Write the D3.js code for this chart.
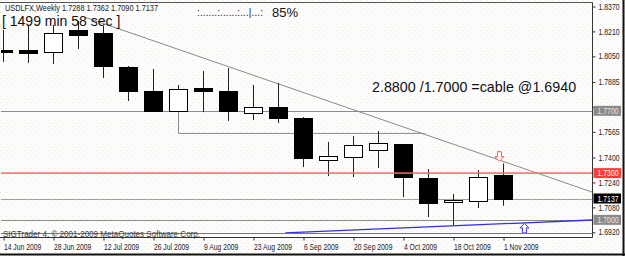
<!DOCTYPE html>
<html>
<head>
<meta charset="utf-8">
<script src="https://cdn.jsdelivr.net/npm/d3@7"></script>
<style>
  html, body { margin: 0; padding: 0; background: #fdfcfc; }
  svg { display: block; }
  .small { font-family: "Liberation Sans", Arial, sans-serif; }
  .big { font-family: "Liberation Sans", Arial, sans-serif; }
</style>
</head>
<body>
<svg id="chart" width="625" height="256"></svg>
<script>
// weekly candles, USDLFX
const weeks = ["2009-06-14","2009-06-21","2009-06-28","2009-07-05","2009-07-12","2009-07-19",
  "2009-07-26","2009-08-02","2009-08-09","2009-08-16","2009-08-23","2009-08-30","2009-09-06",
  "2009-09-13","2009-09-20","2009-09-27","2009-10-04","2009-10-11","2009-10-18","2009-10-25","2009-11-01"];
const open  = [1.8091,1.8091,1.8078,1.8219,1.8200,1.7981,1.7827,1.7699,1.7847,1.7827,1.7686,1.7725,1.7654,1.7384,1.7403,1.7448,1.7487,1.7269,1.7114,1.7121,1.7288];
const high  = [1.8219,1.8251,1.8251,1.8277,1.8245,1.7988,1.7969,1.7866,1.7956,1.7975,1.7866,1.7879,1.7660,1.7500,1.7538,1.7570,1.7487,1.7326,1.7166,1.7320,1.7362];
const low   = [1.8014,1.8007,1.8001,1.8097,1.7911,1.7763,1.7695,1.7692,1.7692,1.7635,1.7641,1.7622,1.7339,1.7281,1.7275,1.7333,1.7146,1.7018,1.6967,1.7076,1.7090];
const close = [1.8078,1.8071,1.8200,1.8187,1.7988,1.7827,1.7699,1.7840,1.7827,1.7699,1.7725,1.7654,1.7397,1.7410,1.7480,1.7493,1.7275,1.7108,1.7127,1.7275,1.7137];

const priceTicks = [1.8370,1.8210,1.8050,1.7885,1.7725,1.7565,1.7400,1.7240,1.7080,1.6920];
const dateTicks = ["2009-06-14","2009-06-28","2009-07-12","2009-07-26","2009-08-09","2009-08-23",
  "2009-09-06","2009-09-20","2009-10-04","2009-10-18","2009-11-01"];

// drawn objects
const levels = [
  {price: 1.7700, color: "#8c8c8c", box: "#8a8a8a", text: "#e4e4e4"},
  {price: 1.7300, color: "#f26a6a", box: "#ff3b3b", text: "#ffffff"},
  {price: 1.7137, color: "#a0a0a0", box: "#000000", text: "#ffffff"},
  {price: 1.7000, color: "#8c8c8c", box: "#8a8a8a", text: "#e4e4e4"}
];
const trendDown = [{t: "2009-07-07", p: 1.8301}, {t: "2009-11-26", p: 1.7178}];
const trendUp   = [{t: "2009-09-01", p: 1.6916}, {t: "2009-11-26", p: 1.6999}];
const stepLine  = [{t: "2009-08-02", p: 1.7699}, {t: "2009-08-02", p: 1.7558}, {t: "2009-10-10", p: 1.7558}];
const arrows = [
  {t: "2009-10-31", p: 1.7380, dir: "down", color: "#ff5a3c"},
  {t: "2009-11-07", p: 1.6974, dir: "up", color: "#3a3aff"}
];

const parse = s => new Date(s + "T00:00:00Z");
const candles = weeks.map((w, i) => ({date: parse(w), o: open[i], h: high[i], l: low[i], c: close[i]}));

const svg = d3.select("#chart");
const plot = {left: 1, right: 592.5, top: 2.5, bottom: 237.5};
const narrow = 0.84; // squeeze for the small terminal font

const x = d3.scaleUtc()
  .domain([parse("2009-06-14"), parse("2009-11-22")])
  .range([3, 578]);
const y = d3.scaleLinear()
  .domain([1.8370, 1.6920])
  .range([6.5, 232.3]);

// background dots
const defs = svg.append("defs");
const pat = defs.append("pattern").attr("id", "dots")
  .attr("width", 6).attr("height", 6).attr("patternUnits", "userSpaceOnUse");
pat.append("rect").attr("width", 6).attr("height", 6).attr("fill", "#fdfcfc");
pat.append("rect").attr("x", 0).attr("y", 0).attr("width", 1).attr("height", 1).attr("fill", "#efe9d2");
pat.append("rect").attr("x", 3).attr("y", 3).attr("width", 1).attr("height", 1).attr("fill", "#f1ecdc");
defs.append("clipPath").attr("id", "clip").append("rect")
  .attr("x", plot.left).attr("y", plot.top)
  .attr("width", plot.right - plot.left).attr("height", plot.bottom - plot.top);

svg.append("rect").attr("width", 625).attr("height", 256).attr("fill", "url(#dots)");

const g = svg.append("g").attr("clip-path", "url(#clip)");
const line = d3.line().x(d => x(parse(d.t))).y(d => y(d.p));

// horizontal levels (full width)
g.selectAll(".lvl").data(levels.filter(d => d.price !== 1.7300)).enter().append("line")
  .attr("x1", plot.left).attr("x2", plot.right)
  .attr("y1", d => Math.round(y(d.price)) + 0.5).attr("y2", d => Math.round(y(d.price)) + 0.5)
  .attr("stroke", d => d.color).attr("stroke-width", 1);

g.append("path").datum(stepLine).attr("d", line)
  .attr("fill", "none").attr("stroke", "#8c8c8c").attr("stroke-width", 1)
  .attr("transform", "translate(0.5,0.5)");
g.append("path").datum(trendDown).attr("d", line)
  .attr("fill", "none").attr("stroke", "#8a8a8a").attr("stroke-width", 1);
g.append("path").datum(trendUp).attr("d", line)
  .attr("fill", "none").attr("stroke", "#2f2ff2").attr("stroke-width", 1.3);

// candles
const bw = 19;
const cg = g.selectAll(".candle").data(candles).enter().append("g");
cg.append("line")
  .attr("x1", d => Math.round(x(d.date)) + 0.5).attr("x2", d => Math.round(x(d.date)) + 0.5)
  .attr("y1", d => y(d.h)).attr("y2", d => y(d.l))
  .attr("stroke", "#222").attr("stroke-width", 1);
cg.append("rect")
  .attr("x", d => Math.round(x(d.date)) - 9 + 0.5)
  .attr("y", d => Math.round(y(Math.max(d.o, d.c))) + 0.5)
  .attr("width", bw - 1)
  .attr("height", d => Math.max(1, Math.round(y(Math.min(d.o, d.c)) - y(Math.max(d.o, d.c)))))
  .attr("fill", d => d.c >= d.o ? "#ffffff" : "#000000")
  .attr("stroke", "#000").attr("stroke-width", 1);

// red level on top
g.selectAll(".red").data(levels.filter(d => d.price === 1.7300)).enter().append("line")
  .attr("x1", plot.left).attr("x2", plot.right)
  .attr("y1", d => y(d.price)).attr("y2", d => y(d.price))
  .attr("stroke", d => d.color).attr("stroke-width", 1.6).attr("opacity", 0.85);

// arrows
const arrowDown = "M-2,-9 L2,-9 L2,-4 L4.5,-4 L0,0.5 L-4.5,-4 L-2,-4 Z";
g.selectAll(".arrow").data(arrows).enter().append("path")
  .attr("d", arrowDown)
  .attr("transform", d => d.dir === "down"
    ? `translate(${x(parse(d.t))},${y(d.p)})`
    : `translate(${x(parse(d.t))},${y(d.p)}) scale(1,-1)`)
  .attr("fill", "#ffffff").attr("stroke", d => d.color).attr("stroke-width", 1);

// frame
svg.append("line").attr("x1", 0).attr("x2", plot.right).attr("y1", plot.top).attr("y2", plot.top)
  .attr("stroke", "#555");
svg.append("line").attr("x1", plot.left).attr("x2", plot.right).attr("y1", 233.5).attr("y2", 233.5)
  .attr("stroke", "#777");
svg.append("line").attr("x1", 0).attr("x2", plot.right).attr("y1", plot.bottom).attr("y2", plot.bottom)
  .attr("stroke", "#333");
svg.append("line").attr("x1", plot.right).attr("x2", plot.right).attr("y1", plot.top).attr("y2", plot.bottom)
  .attr("stroke", "#333");

// price axis
const ya = svg.append("g").attr("class", "small")
  .attr("transform", `translate(${plot.right},0)`)
  .call(d3.axisRight(y).tickValues(priceTicks).tickFormat(d3.format(".4f")).tickSize(3).tickPadding(2.5));
ya.select(".domain").remove();
ya.selectAll("text").attr("font-size", 8.2).attr("fill", "#222")
  .attr("transform", `scale(${narrow},1)`)
  .attr("x", 6 / narrow)
  // labels hidden behind a level box
  .style("display", d => levels.some(l => Math.abs(y(l.price) - y(d)) < 6) ? "none" : null);
ya.selectAll("line").attr("stroke", "#333");

// level labels on the axis
const lb = svg.selectAll(".lbl").data(levels).enter().append("g")
  .attr("transform", d => `translate(${plot.right + 1},${y(d.price)})`);
lb.append("rect").attr("x", 0).attr("y", -5).attr("width", 27.5).attr("height", 10)
  .attr("fill", d => d.box);
lb.append("text").attr("class", "small").attr("x", 4 / narrow).attr("y", 3)
  .attr("transform", `scale(${narrow},1)`)
  .attr("font-size", 8.2).attr("fill", d => d.text)
  .text(d => d3.format(".4f")(d.price));

// time axis
const xa = svg.append("g").attr("class", "small")
  .attr("transform", `translate(0,${plot.bottom})`)
  .call(d3.axisBottom(x).tickValues(dateTicks.map(parse)).tickFormat(d3.utcFormat("%-d %b %Y")).tickSize(3).tickPadding(1));
xa.select(".domain").remove();
xa.selectAll("line").attr("stroke", "#333").attr("transform", "translate(0.5,0)");
xa.selectAll("text").attr("font-size", 8.5).attr("fill", "#222")
  .attr("text-anchor", "start").attr("x", 0.5).attr("dy", "0.95em")
  .attr("transform", `scale(${narrow - 0.04},1)`);

// window border
svg.append("line").attr("x1", 623.5).attr("x2", 623.5).attr("y1", 0).attr("y2", 256)
  .attr("stroke", "#111").attr("stroke-width", 2);
svg.append("line").attr("x1", 0).attr("x2", 625).attr("y1", 254.5).attr("y2", 254.5)
  .attr("stroke", "#111").attr("stroke-width", 2);

// texts
svg.append("text").attr("class", "small").attr("x", 5).attr("y", 11)
  .attr("font-size", 8.5).attr("fill", "#222")
  .attr("textLength", 153).attr("lengthAdjust", "spacingAndGlyphs")
  .text("USDLFX,Weekly  1.7288 1.7362 1.7090 1.7137");
svg.append("text").attr("class", "small").attr("x", 197).attr("y", 16)
  .attr("font-size", 10).attr("fill", "#222")
  .attr("textLength", 66).attr("lengthAdjust", "spacing")
  .text(":......:......:...|...:");
svg.append("text").attr("class", "big").attr("x", 272).attr("y", 16.5)
  .attr("font-size", 13).attr("fill", "#111").text("85%");
svg.append("text").attr("class", "big").attr("x", 2).attr("y", 26)
  .attr("font-size", 14).attr("fill", "#111").text("[ 1499 min 58 sec ]");
svg.append("text").attr("class", "big").attr("x", 372).attr("y", 91.5)
  .attr("font-size", 14.3).attr("fill", "#111").text("2.8800 /1.7000 =cable @1.6940");
svg.append("text").attr("class", "small").attr("x", 3).attr("y", 237)
  .attr("font-size", 9).attr("fill", "#444")
  .attr("textLength", 197).attr("lengthAdjust", "spacingAndGlyphs")
  .text("SIGTrader 4, \u00a9 2001-2009 MetaQuotes Software Corp.");
</script>
</body>
</html>
